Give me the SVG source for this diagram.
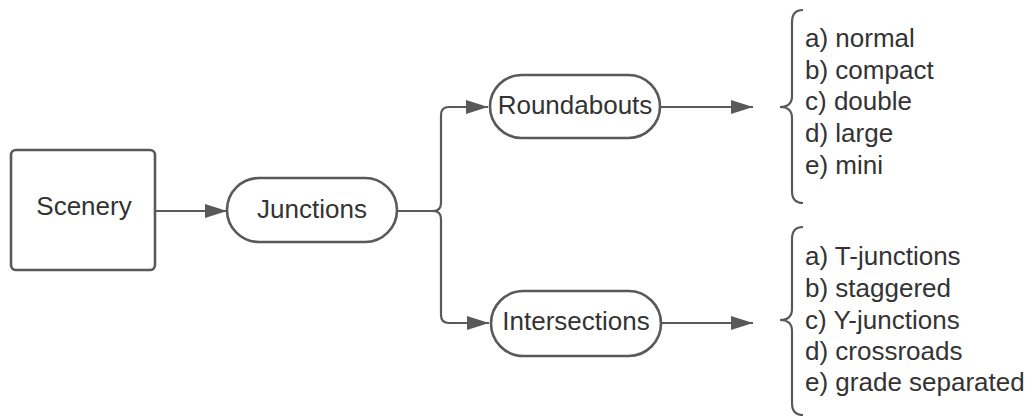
<svg xmlns="http://www.w3.org/2000/svg" width="1033" height="419" viewBox="0 0 1033 419">
<style>
.shape{fill:#fff;stroke:#595959;stroke-width:2.6}
.line{fill:none;stroke:#595959;stroke-width:2.2}
.lbl{font-family:"Liberation Sans",Arial,sans-serif;font-size:26px;fill:#333}
.mid{text-anchor:middle;dominant-baseline:central}
</style>
<defs>
<marker id="arr" markerUnits="userSpaceOnUse" markerWidth="24" markerHeight="16" refX="22" refY="7" orient="auto">
<path d="M0,0 L22,7 L0,14 Z" fill="#595959"/>
</marker>
</defs>
<rect width="1033" height="419" fill="#fff"/>
<g id="connectors">
<path class="line" d="M155,211 H227" marker-end="url(#arr)"/>
<path class="line" d="M397,211 H433 Q441,211 441,203 V115 Q441,107 449,107 H488" marker-end="url(#arr)"/>
<path class="line" d="M397,211 H433 Q441,211 441,219 V315 Q441,323 449,323 H489" marker-end="url(#arr)"/>
<path class="line" d="M660,107 H753" marker-end="url(#arr)"/>
<path class="line" d="M661,323 H753" marker-end="url(#arr)"/>
</g>
<g id="scenery">
<rect class="shape" x="11" y="150" width="144" height="120" rx="5"/>
<text class="lbl mid" x="84" y="206">Scenery</text>
</g>
<g id="junctions">
<rect class="shape" x="227" y="178" width="170" height="64" rx="32"/>
<text class="lbl mid" x="312" y="209">Junctions</text>
</g>
<g id="roundabouts">
<rect class="shape" x="490" y="75" width="170" height="63" rx="31.5"/>
<text class="lbl mid" x="575" y="105">Roundabouts</text>
</g>
<g id="intersections">
<rect class="shape" x="491" y="291" width="170" height="65" rx="32.5"/>
<text class="lbl mid" x="576" y="321">Intersections</text>
</g>
<g id="roundabout-types">
<path class="line" d="M803,10 Q792,10 792,22 V96 Q792,107 780,107 Q792,107 792,118 V191 Q792,203 803,203"/>
<text class="lbl" x="805" y="47">a) normal</text>
<text class="lbl" x="805" y="79">b) compact</text>
<text class="lbl" x="805" y="110">c) double</text>
<text class="lbl" x="805" y="142">d) large</text>
<text class="lbl" x="805" y="174">e) mini</text>
</g>
<g id="intersection-types">
<path class="line" d="M803,227 Q792,227 792,239 V309 Q792,320 780,320 Q792,320 792,331 V403 Q792,415 803,415"/>
<text class="lbl" x="805" y="265">a) T-junctions</text>
<text class="lbl" x="805" y="297">b) staggered</text>
<text class="lbl" x="805" y="329">c) Y-junctions</text>
<text class="lbl" x="805" y="360">d) crossroads</text>
<text class="lbl" x="805" y="391">e) grade separated</text>
</g>
</svg>
